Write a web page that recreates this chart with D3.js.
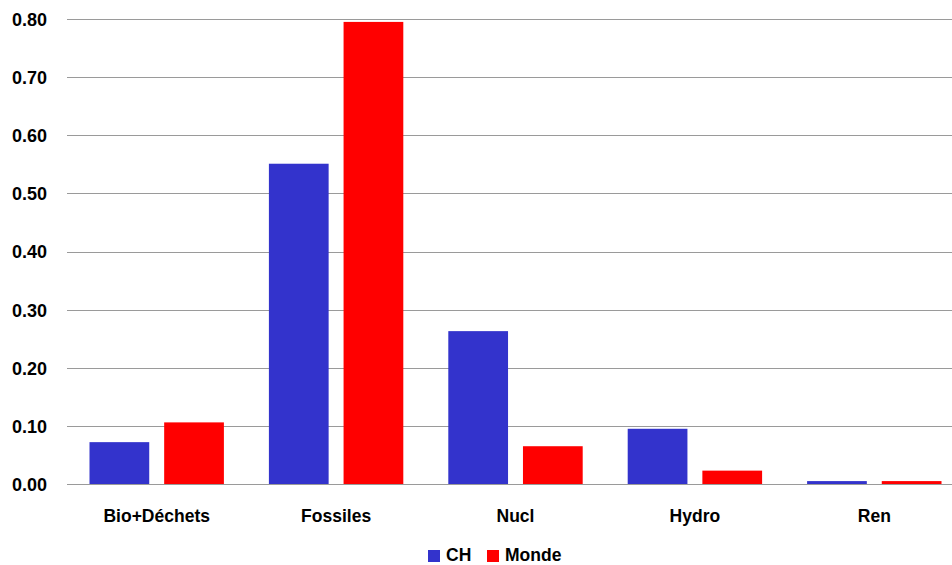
<!DOCTYPE html>
<html>
<head>
<meta charset="utf-8">
<script src="https://cdn.jsdelivr.net/npm/d3@7"></script>
<style>
  html, body { margin: 0; padding: 0; background: #fff; }
  svg { display: block; }
  text { font-family: "Liberation Sans", Arial, Helvetica, sans-serif; fill: #000; }
</style>
</head>
<body>
<svg id="chart" width="952" height="565"></svg>
<script>
// Energy mix shares: Switzerland (CH) vs. world (Monde)
const categories = ["Bio+Déchets", "Fossiles", "Nucl", "Hydro", "Ren"];
const seriesNames = ["CH", "Monde"];
const valuesCH = [0.072, 0.551, 0.263, 0.095, 0.005];
const valuesMonde = [0.106, 0.795, 0.065, 0.023, 0.005];
const yTicks = [0, 0.1, 0.2, 0.3, 0.4, 0.5, 0.6, 0.7, 0.8];
const colors = ["#3333cc", "#ff0000"];

const svg = d3.select("#chart");
const W = 952;
const plotLeft = 67, plotRight = 964, plotTop = 19, plotBottom = 484;

const x = d3.scaleBand().domain(categories).range([plotLeft, plotRight]).paddingInner(0).paddingOuter(0);
const xInner = d3.scaleBand().domain(seriesNames).range([22.5, x.bandwidth() - 22.5]).paddingInner(0.2);
const y = d3.scaleLinear().domain([0, 0.8]).range([plotBottom, plotTop]);

// gridlines
svg.append("g")
  .selectAll("line")
  .data(yTicks)
  .join("line")
  .attr("x1", plotLeft).attr("x2", W)
  .attr("y1", d => Math.round(y(d)) + 0.5)
  .attr("y2", d => Math.round(y(d)) + 0.5)
  .attr("stroke", "#9a9a9a")
  .attr("stroke-width", 1);

// y-axis labels
const yAxis = d3.axisLeft(y).tickValues(yTicks).tickFormat(d3.format(".2f")).tickSize(0).tickPadding(0);
const gy = svg.append("g").attr("transform", "translate(47,0)").call(yAxis);
gy.select(".domain").remove();
gy.selectAll("text")
  .attr("font-family", "Liberation Sans, Arial, sans-serif")
  .attr("font-size", 18)
  .attr("font-weight", "bold")
  .attr("dy", "0.36em")
  .attr("fill", "#000");

// bars
const rows = categories.map((c, i) => ({ cat: c, vals: [valuesCH[i], valuesMonde[i]] }));
const groups = svg.append("g")
  .selectAll("g")
  .data(rows)
  .join("g")
  .attr("transform", d => `translate(${x(d.cat)},0)`);

groups.selectAll("rect")
  .data(d => d.vals.map((v, j) => ({ name: seriesNames[j], v, j })))
  .join("rect")
  .attr("x", d => xInner(d.name))
  .attr("width", xInner.bandwidth())
  .attr("y", d => y(d.v))
  .attr("height", d => y(0) - y(d.v))
  .attr("fill", d => colors[d.j]);

// baseline over bars
svg.append("line")
  .attr("x1", plotLeft).attr("x2", W)
  .attr("y1", Math.round(y(0)) + 0.5).attr("y2", Math.round(y(0)) + 0.5)
  .attr("stroke", "#9a9a9a");

// category labels
const xAxis = d3.axisBottom(x).tickSize(0).tickPadding(0);
const gx = svg.append("g").attr("transform", "translate(0,522)").call(xAxis);
gx.select(".domain").remove();
gx.selectAll("text")
  .attr("font-family", "Liberation Sans, Arial, sans-serif")
  .attr("font-size", 17.5)
  .attr("font-weight", "bold")
  .attr("dy", 0)
  .attr("y", 0)
  .attr("fill", "#000");

// legend
const legend = svg.append("g");
const legendItems = [{ name: "CH", x: 428 }, { name: "Monde", x: 487 }];
legendItems.forEach((it, i) => {
  legend.append("rect")
    .attr("x", it.x).attr("y", 550)
    .attr("width", 12).attr("height", 12)
    .attr("fill", colors[i]);
  legend.append("text")
    .attr("x", it.x + 18).attr("y", 561)
    .attr("font-size", 17.5)
    .attr("font-weight", "bold")
    .text(it.name);
});
</script>
</body>
</html>
